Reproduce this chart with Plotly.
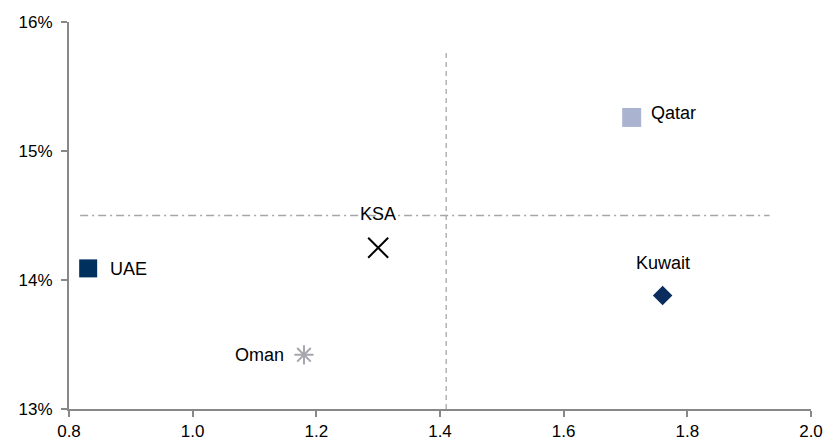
import plotly.graph_objects as go

# GCC markets: x-axis metric vs. percentage metric
countries = ["UAE", "KSA", "Oman", "Qatar", "Kuwait"]
x_vals = [0.831, 1.30, 1.18, 1.71, 1.76]
y_vals = [14.09, 14.25, 13.42, 15.26, 13.88]

symbols = ["square", "x-thin", "asterisk-open", "square", "diamond"]
colors = ["#00305E", "#000000", "#A6A6AE", "#AAB4D0", "#0A2D5E"]
sizes = [18, 20, 16, 19, 15]

# label placement per point: (xshift, yshift, xanchor)
label_pos = [(20, -1, "left"), (0, 34, "center"), (-18, 0, "right"),
             (17, 4, "left"), (0, 32, "center")]

# reference lines
v_line_x = 1.41
v_line_y = [13.0, 15.78]
h_line_y = 14.5
h_line_x = [0.818, 1.933]

x_ticks = [0.8, 1.0, 1.2, 1.4, 1.6, 1.8, 2.0]
y_ticks = [13, 14, 15, 16]

FONT = "Liberation Sans Narrow, Arial Narrow, Liberation Sans, Arial"

fig = go.Figure()

fig.add_trace(go.Scatter(
    x=[v_line_x, v_line_x], y=v_line_y, mode="lines",
    line=dict(color="#A6A6A6", width=1.3, dash="5px,4px"),
    hoverinfo="skip", showlegend=False))
fig.add_trace(go.Scatter(
    x=h_line_x, y=[h_line_y, h_line_y], mode="lines",
    line=dict(color="#A6A6A6", width=1.3, dash="8px,4px,2px,4px"),
    hoverinfo="skip", showlegend=False))

for name, x, y, sym, col, sz in zip(countries, x_vals, y_vals, symbols, colors, sizes):
    open_sym = sym in ("x-thin", "asterisk-open")
    fig.add_trace(go.Scatter(
        x=[x], y=[y], mode="markers", name=name,
        marker=dict(symbol=sym, size=sz, color=col,
                    line=dict(color=col, width=2 if open_sym else 0)),
        showlegend=False))

for name, x, y, (dx, dy, anchor) in zip(countries, x_vals, y_vals, label_pos):
    fig.add_annotation(x=x, y=y, text=name, showarrow=False,
                       xshift=dx, yshift=dy, xanchor=anchor, yanchor="middle",
                       font=dict(family=FONT, size=18, color="#000000"))

fig.update_layout(
    width=826, height=446,
    margin=dict(l=69, r=15, t=22, b=37),
    paper_bgcolor="white", plot_bgcolor="white",
    font=dict(family=FONT, size=17, color="#000000"),
)
fig.update_xaxes(
    range=[0.8, 2.0], tickvals=x_ticks, ticktext=[f"{v:.1f}" for v in x_ticks],
    automargin=False,
    showgrid=False, zeroline=False, showline=True, linecolor="#888888", linewidth=2,
    ticks="outside", ticklen=6, tickcolor="#888888", tickwidth=1.5,
    tickfont=dict(family=FONT, size=17))
fig.update_yaxes(
    range=[13, 16], tickvals=y_ticks, ticktext=[f"{v}%" for v in y_ticks],
    automargin=False, ticklabelstandoff=5,
    showgrid=False, zeroline=False, showline=True, linecolor="#888888", linewidth=2,
    ticks="outside", ticklen=6, tickcolor="#888888", tickwidth=1.5,
    tickfont=dict(family=FONT, size=17))

fig.write_html("out.html")
